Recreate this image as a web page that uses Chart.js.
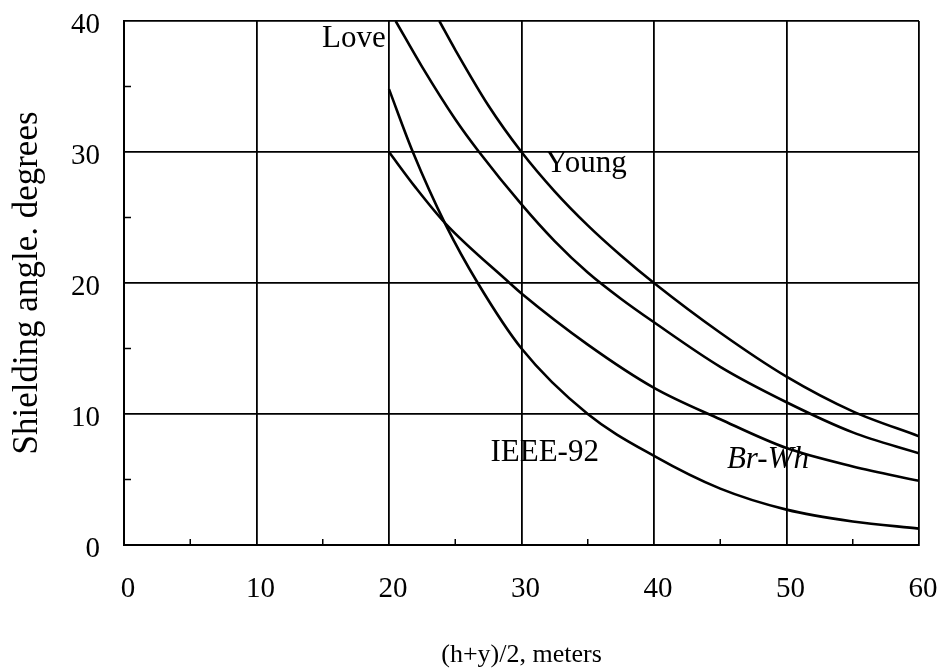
<!DOCTYPE html>
<html>
<head>
<meta charset="utf-8">
<script src="https://cdn.jsdelivr.net/npm/chart.js@4.4.1/dist/chart.umd.min.js"></script>
<style>
  html, body { margin: 0; padding: 0; background: #ffffff; }
  #wrap { width: 941px; height: 668px; }
</style>
</head>
<body>
<div id="wrap"><canvas id="c" width="941" height="668"></canvas></div>
<script>
// Shielding angle versus mean conductor height, four design methods
const xTicks = [0, 10, 20, 30, 40, 50, 60];
const yTicks = [0, 10, 20, 30, 40];

const youngX = [23.8, 25, 27.5, 30, 32.5, 35, 37.5, 40, 45, 50, 55, 60];
const youngY = [40, 37.8, 33.55, 30, 27.0, 24.4, 22.1, 20, 16.2, 12.85, 10.2, 8.3];

const loveX = [20.5, 22.5, 25, 26.8, 30, 32.5, 35, 37.5, 40, 45, 50, 55, 60];
const loveY = [40, 36.5, 32.5, 30, 26.0, 23.2, 20.8, 18.8, 17.0, 13.6, 10.9, 8.6, 7.0];

const ieeeX = [20, 21.8, 24.3, 26.7, 30, 35, 40, 45, 50, 55, 60];
const ieeeY = [34.8, 30, 24.4, 20, 15.0, 10, 6.8, 4.3, 2.7, 1.8, 1.25];

const brwhX = [20, 22, 24.3, 29, 30, 35, 40, 45, 50, 55, 60];
const brwhY = [30, 27.3, 24.5, 20.1, 19.2, 15.3, 12.0, 9.6, 7.4, 6.0, 4.9];

const minorX = [5, 15, 25, 35, 45, 55];
const minorY = [5, 15, 25, 35];

const SERIF = '"Liberation Serif", "DejaVu Serif", "Times New Roman", serif';

function pairs(xs, ys) {
  return xs.map((x, i) => ({ x: x, y: ys[i] }));
}

function curve(name, xs, ys) {
  return {
    label: name,
    data: pairs(xs, ys),
    borderColor: '#000000',
    borderWidth: 2.6,
    pointRadius: 0,
    fill: false,
    showLine: true,
    cubicInterpolationMode: 'monotone'
  };
}

// Curve names placed in data units next to each line
const curveNotes = [
  { text: 'Love',    x: 19.75, y: 38.6, align: 'right',  italic: false },
  { text: 'Young',   x: 31.8,  y: 29.1, align: 'left',   italic: false },
  { text: 'IEEE-92', x: 31.75, y: 7.0,  align: 'center', italic: false },
  { text: 'Br-Wh',   x: 48.6,  y: 6.5,  align: 'center', italic: true }
];

const extras = {
  id: 'extras',
  afterDatasetsDraw(chart) {
    const ctx = chart.ctx;
    const xs = chart.scales.x, ys = chart.scales.y;
    const area = chart.chartArea;
    ctx.save();
    ctx.strokeStyle = '#000000';
    ctx.lineWidth = 1.5;
    // small inner tick marks halfway between the grid lines
    minorX.forEach(v => {
      const px = xs.getPixelForValue(v);
      ctx.beginPath();
      ctx.moveTo(px, area.bottom);
      ctx.lineTo(px, area.bottom - 6);
      ctx.stroke();
    });
    minorY.forEach(v => {
      const py = ys.getPixelForValue(v);
      ctx.beginPath();
      ctx.moveTo(area.left, py);
      ctx.lineTo(area.left + 7, py);
      ctx.stroke();
    });
    // curve names
    ctx.fillStyle = '#000000';
    ctx.textBaseline = 'middle';
    curveNotes.forEach(n => {
      ctx.font = (n.italic ? 'italic ' : '') + '31px ' + SERIF;
      ctx.textAlign = n.align;
      ctx.fillText(n.text, xs.getPixelForValue(n.x), ys.getPixelForValue(n.y));
    });
    ctx.restore();
  }
};

new Chart(document.getElementById('c'), {
  type: 'scatter',
  data: {
    datasets: [
      curve('Young', youngX, youngY),
      curve('Love', loveX, loveY),
      curve('IEEE-92', ieeeX, ieeeY),
      curve('Br-Wh', brwhX, brwhY)
    ]
  },
  options: {
    responsive: false,
    animation: false,
    devicePixelRatio: 1,
    layout: { padding: { top: 21, right: 22, bottom: 0, left: 0 } },
    plugins: {
      legend: { display: false },
      tooltip: { enabled: false }
    },
    scales: {
      x: {
        type: 'linear',
        min: 0,
        max: 60,
        afterBuildTicks(scale) { scale.ticks = xTicks.map(v => ({ value: v })); },
        afterFit(scale) { scale.height = 123; },
        grid: {
          color: '#000000', lineWidth: 1.8,
          drawTicks: true, tickLength: 27, tickColor: 'rgba(0,0,0,0)'
        },
        border: { display: true, color: '#000000', width: 2 },
        ticks: {
          color: '#000000',
          padding: 0,
          labelOffset: 4,
          maxRotation: 0,
          autoSkip: false,
          font: { family: SERIF, size: 29 }
        },
        title: {
          display: true,
          text: '(h+y)/2, meters',
          color: '#000000',
          padding: { top: 0, bottom: 0 },
          font: { family: SERIF, size: 26, lineHeight: 0.96 }
        }
      },
      y: {
        type: 'linear',
        min: 0,
        max: 40,
        afterBuildTicks(scale) { scale.ticks = yTicks.map(v => ({ value: v })); },
        afterFit(scale) { scale.width = 124; },
        grid: {
          color: '#000000', lineWidth: 1.8,
          drawTicks: true, tickLength: 24, tickColor: 'rgba(0,0,0,0)'
        },
        border: { display: true, color: '#000000', width: 2 },
        ticks: {
          color: '#000000',
          padding: 0,
          labelOffset: 4,
          autoSkip: false,
          font: { family: SERIF, size: 29 }
        },
        title: {
          display: true,
          text: 'Shielding angle. degrees',
          color: '#000000',
          padding: { top: 7, bottom: 0 },
          font: { family: SERIF, size: 35 }
        }
      }
    }
  },
  plugins: [extras]
});
</script>
</body>
</html>
